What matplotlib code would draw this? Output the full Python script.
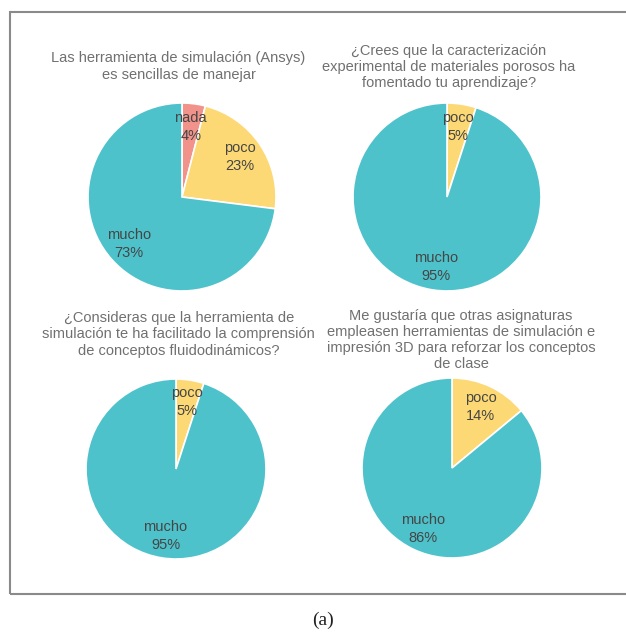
import matplotlib
matplotlib.use("Agg")
import matplotlib.pyplot as plt
from matplotlib.patches import Rectangle

plt.rcParams["font.family"] = ["Liberation Sans", "DejaVu Sans"]

# Survey questions and answers
titles = [
    "Las herramienta de simulación (Ansys)\nes sencillas de manejar",
    "¿Crees que la caracterización\nexperimental de materiales porosos ha\nfomentado tu aprendizaje?",
    "¿Consideras que la herramienta de\nsimulación te ha facilitado la comprensión\nde conceptos fluidodinámicos?",
    "Me gustaría que otras asignaturas\nempleasen herramientas de simulación e\nimpresión 3D para reforzar los conceptos\nde clase",
]
q1_labels = ["nada", "poco", "mucho"]
q1_values = [4, 23, 73]
q2_labels = ["poco", "mucho"]
q2_values = [5, 95]
q3_labels = ["poco", "mucho"]
q3_values = [5, 95]
q4_labels = ["poco", "mucho"]
q4_values = [14, 86]

answer_colors = {"nada": "#F1938B", "poco": "#FCD975", "mucho": "#4EC2CB"}

W, H = 626, 632
fig = plt.figure(figsize=(W / 100, H / 100), dpi=100)
fig.patch.set_facecolor("white")

# Pie placement in pixels: centre x, centre y (from top), radius,
# title pad (pt), title horizontal position (axes fraction)
layout = [
    (182, 197, 94, 17.5, 0.482),
    (447, 197, 94, 11.5, 0.51),
    (176, 469, 90, 17.5, 0.515),
    (452, 468, 90, 7, 0.55),
]
data = [
    (q1_labels, q1_values),
    (q2_labels, q2_values),
    (q3_labels, q3_values),
    (q4_labels, q4_values),
]

for (cx, cy, r, pad, tx), (labels, values), title in zip(layout, data, titles):
    ax = fig.add_axes([(cx - r) / W, (H - cy - r) / H, 2 * r / W, 2 * r / H])
    texts = [f"{lab}\n{v}%" for lab, v in zip(labels, values)]
    ax.pie(
        values,
        labels=texts,
        colors=[answer_colors[l] for l in labels],
        startangle=90,
        counterclock=False,
        labeldistance=0.75,
        wedgeprops=dict(edgecolor="white", linewidth=1.2),
        textprops=dict(ha="center", va="center", color="#454545",
                       fontsize=10.5, linespacing=1.35),
    )
    ax.set_xlim(-1, 1)
    ax.set_ylim(-1, 1)
    ax.set_aspect("equal")
    ax.axis("off")
    ax.set_title(title, fontsize=10.5, color="#707070", pad=pad,
                 linespacing=1.2, x=tx)

# Outer frame
frame = Rectangle((10 / W, (H - 594) / H), 640 / W, (594 - 12) / H,
                  transform=fig.transFigure, fill=False,
                  edgecolor="#8a8a8a", linewidth=1.5)
fig.patches.append(frame)

fig.text(323 / W, 1 - 620 / H, "(a)", ha="center", va="center",
         fontsize=14, family=["Liberation Serif", "DejaVu Serif"], color="#222222")

fig.savefig("out.png", dpi=100)
